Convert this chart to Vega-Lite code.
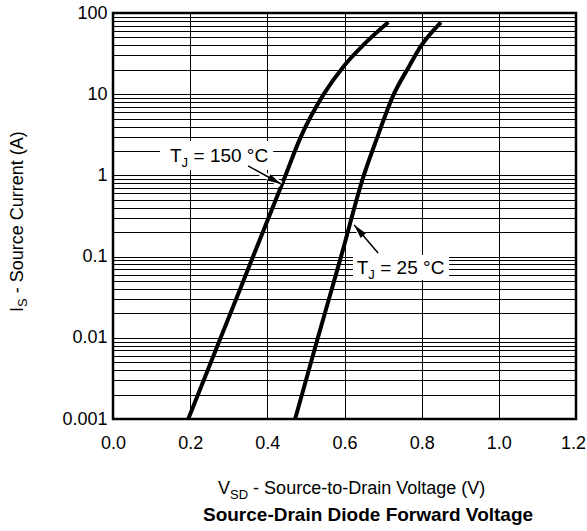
{
  "$schema": "https://vega.github.io/schema/vega-lite/v6.json",
  "width": 463,
  "height": 406,
  "autosize": "none",
  "padding": {"left": 113, "top": 13, "right": 11, "bottom": 112},
  "background": "white",
  "config": {
    "font": "Liberation Sans",
    "view": {"stroke": "black", "strokeWidth": 2.5}
  },
  "datasets": {
    "curves": [
      {"v": 0.195, "i": 0.001, "tj": "150 °C"},
      {"v": 0.279, "i": 0.01, "tj": "150 °C"},
      {"v": 0.363, "i": 0.1, "tj": "150 °C"},
      {"v": 0.447, "i": 1, "tj": "150 °C"},
      {"v": 0.485, "i": 2.86, "tj": "150 °C"},
      {"v": 0.545, "i": 9.8, "tj": "150 °C"},
      {"v": 0.597, "i": 21.8, "tj": "150 °C"},
      {"v": 0.649, "i": 40.4, "tj": "150 °C"},
      {"v": 0.7135, "i": 76.8, "tj": "150 °C"},
      {"v": 0.472, "i": 0.001, "tj": "25 °C"},
      {"v": 0.531, "i": 0.01, "tj": "25 °C"},
      {"v": 0.591, "i": 0.1, "tj": "25 °C"},
      {"v": 0.65, "i": 1, "tj": "25 °C"},
      {"v": 0.684, "i": 2.86, "tj": "25 °C"},
      {"v": 0.727, "i": 9.8, "tj": "25 °C"},
      {"v": 0.767, "i": 21.8, "tj": "25 °C"},
      {"v": 0.797, "i": 38.5, "tj": "25 °C"},
      {"v": 0.85, "i": 76.8, "tj": "25 °C"}
    ],
    "boxes": [
      {"x1": 0.122, "x2": 0.415, "y1": 2.65, "y2": 1.166},
      {"x1": 0.622, "x2": 0.871, "y1": 0.1047, "y2": 0.0515}
    ],
    "arrows": [
      {"name": "150", "x1": 0.35, "y1": 1.31, "x2": 0.4355, "y2": 0.783},
      {"name": "25", "x1": 0.687, "y1": 0.1107, "x2": 0.625, "y2": 0.245}
    ],
    "labels": [
      {"main": "T", "sub": "J", "rest": "= 150 °C", "x": 0.148, "y": 1.46},
      {"main": "T", "sub": "J", "rest": "= 25 °C", "x": 0.632, "y": 0.0611}
    ],
    "one": [{}]
  },
  "layer": [
    {
      "data": {"name": "curves"},
      "mark": {"type": "line", "stroke": "black", "strokeWidth": 4, "interpolate": "monotone"},
      "encoding": {
        "x": {
          "field": "v", "type": "quantitative",
          "scale": {"domain": [0, 1.2], "nice": false, "zero": false},
          "axis": {
            "values": [0, 0.2, 0.4, 0.6, 0.8, 1.0, 1.2],
            "format": ".1f", "title": null,
            "grid": true, "gridColor": "black", "gridWidth": 1, "gridOpacity": 1,
            "ticks": false, "domain": false,
            "labelFontSize": 18, "labelColor": "black", "labelPadding": 15,
            "labelOffset": {"condition": {"test": "datum.value >= 1.15", "value": -3}, "value": 0},
            "labelFlush": false, "labelOverlap": false
          }
        },
        "y": {
          "field": "i", "type": "quantitative",
          "scale": {"type": "log", "domain": [0.001, 100], "nice": false},
          "axis": {
            "values": [0.001, 0.002, 0.003, 0.004, 0.005, 0.006, 0.007, 0.008, 0.009, 0.01, 0.02, 0.03, 0.04, 0.05, 0.06, 0.07, 0.08, 0.09, 0.1, 0.2, 0.3, 0.4, 0.5, 0.6, 0.7, 0.8, 0.9, 1, 2, 3, 4, 5, 6, 7, 8, 9, 10, 20, 30, 40, 50, 60, 70, 80, 90, 100],
            "format": "~g",
            "labelExpr": "indexof([0.001, 0.01, 0.1, 1, 10, 100], datum.value) >= 0 ? datum.label : ''",
            "title": null,
            "grid": true, "gridColor": "black", "gridWidth": 1, "gridOpacity": 1,
            "ticks": false, "domain": false,
            "labelFontSize": 18, "labelColor": "black", "labelPadding": 6,
            "labelFlush": false, "labelOverlap": false, "labelBound": false
          }
        },
        "detail": {"field": "tj"}
      }
    },
    {
      "data": {"name": "boxes"},
      "mark": {"type": "rect", "fill": "white"},
      "encoding": {
        "x": {"field": "x1", "type": "quantitative"},
        "x2": {"field": "x2"},
        "y": {"field": "y1", "type": "quantitative"},
        "y2": {"field": "y2"}
      }
    },
    {
      "data": {"name": "arrows"},
      "mark": {"type": "rule", "stroke": "white", "strokeWidth": 6},
      "encoding": {
        "x": {"field": "x1", "type": "quantitative"},
        "x2": {"field": "x2"},
        "y": {"field": "y1", "type": "quantitative"},
        "y2": {"field": "y2"}
      }
    },
    {
      "data": {"name": "arrows"},
      "mark": {"type": "rule", "stroke": "black", "strokeWidth": 1.5},
      "encoding": {
        "x": {"field": "x1", "type": "quantitative"},
        "x2": {"field": "x2"},
        "y": {"field": "y1", "type": "quantitative"},
        "y2": {"field": "y2"}
      }
    },
    {
      "data": {"name": "arrows"},
      "transform": [{"filter": "datum.name == '150'"}],
      "mark": {"type": "point", "shape": "M0,0L-2,-0.5L-2,0.5Z", "filled": true, "fill": "black", "stroke": null, "opacity": 1, "size": 196, "angle": 28.6},
      "encoding": {
        "x": {"field": "x2", "type": "quantitative"},
        "y": {"field": "y2", "type": "quantitative"}
      }
    },
    {
      "data": {"name": "arrows"},
      "transform": [{"filter": "datum.name == '25'"}],
      "mark": {"type": "point", "shape": "M0,0L-2,-0.5L-2,0.5Z", "filled": true, "fill": "black", "stroke": null, "opacity": 1, "size": 196, "angle": 229.4},
      "encoding": {
        "x": {"field": "x2", "type": "quantitative"},
        "y": {"field": "y2", "type": "quantitative"}
      }
    },
    {
      "data": {"name": "labels"},
      "mark": {"type": "text", "align": "left", "baseline": "alphabetic", "fontSize": 19, "fill": "black"},
      "encoding": {
        "x": {"field": "x", "type": "quantitative"},
        "y": {"field": "y", "type": "quantitative"},
        "text": {"field": "main"}
      }
    },
    {
      "data": {"name": "labels"},
      "mark": {"type": "text", "align": "left", "baseline": "alphabetic", "fontSize": 13, "fill": "black", "dx": 11.4, "dy": 5},
      "encoding": {
        "x": {"field": "x", "type": "quantitative"},
        "y": {"field": "y", "type": "quantitative"},
        "text": {"field": "sub"}
      }
    },
    {
      "data": {"name": "labels"},
      "mark": {"type": "text", "align": "left", "baseline": "alphabetic", "fontSize": 19, "fill": "black", "dx": 23.4},
      "encoding": {
        "x": {"field": "x", "type": "quantitative"},
        "y": {"field": "y", "type": "quantitative"},
        "text": {"field": "rest"}
      }
    },
    {
      "data": {"name": "one"},
      "mark": {"type": "text", "align": "left", "baseline": "alphabetic", "fontSize": 18, "fill": "black", "clip": false},
      "encoding": {
        "x": {"datum": 0.2722, "type": "quantitative"},
        "y": {"datum": 0.0001192, "type": "quantitative"},
        "text": {"value": "V"}
      }
    },
    {
      "data": {"name": "one"},
      "mark": {"type": "text", "align": "left", "baseline": "alphabetic", "fontSize": 13, "fill": "black", "dx": 12, "dy": 4.5, "clip": false},
      "encoding": {
        "x": {"datum": 0.2722, "type": "quantitative"},
        "y": {"datum": 0.0001192, "type": "quantitative"},
        "text": {"value": "SD"}
      }
    },
    {
      "data": {"name": "one"},
      "mark": {"type": "text", "align": "left", "baseline": "alphabetic", "fontSize": 18, "fill": "black", "dx": 35.1, "clip": false},
      "encoding": {
        "x": {"datum": 0.2722, "type": "quantitative"},
        "y": {"datum": 0.0001192, "type": "quantitative"},
        "text": {"value": "- Source-to-Drain Voltage (V)"}
      }
    },
    {
      "data": {"name": "one"},
      "mark": {"type": "text", "align": "center", "baseline": "alphabetic", "fontSize": 19, "fontWeight": "bold", "fill": "black", "clip": false},
      "encoding": {
        "x": {"datum": 0.661, "type": "quantitative"},
        "y": {"datum": 0.0000554, "type": "quantitative"},
        "text": {"value": "Source-Drain Diode Forward Voltage"}
      }
    },
    {
      "data": {"name": "one"},
      "mark": {"type": "text", "align": "left", "baseline": "alphabetic", "fontSize": 18, "fill": "black", "angle": 270, "clip": false},
      "encoding": {
        "x": {"datum": -0.2333, "type": "quantitative"},
        "y": {"datum": 0.0208, "type": "quantitative"},
        "text": {"value": "I"}
      }
    },
    {
      "data": {"name": "one"},
      "mark": {"type": "text", "align": "left", "baseline": "alphabetic", "fontSize": 13, "fill": "black", "angle": 270, "dx": 5, "dy": 4, "clip": false},
      "encoding": {
        "x": {"datum": -0.2333, "type": "quantitative"},
        "y": {"datum": 0.0208, "type": "quantitative"},
        "text": {"value": "S"}
      }
    },
    {
      "data": {"name": "one"},
      "mark": {"type": "text", "align": "left", "baseline": "alphabetic", "fontSize": 18, "fill": "black", "angle": 270, "dx": 18.7, "clip": false},
      "encoding": {
        "x": {"datum": -0.2333, "type": "quantitative"},
        "y": {"datum": 0.0208, "type": "quantitative"},
        "text": {"value": "- Source Current (A)"}
      }
    }
  ]
}
